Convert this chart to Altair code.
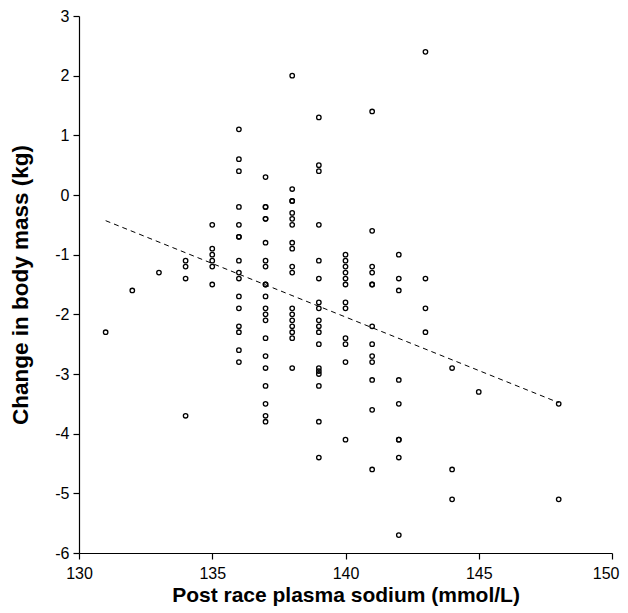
import altair as alt
import pandas as pd

# Post race plasma sodium (mmol/L) and change in body mass (kg), read column by column
sodium = (
    [131] + [132] + [133]
    + [134] * 4
    + [135] * 6
    + [136] * 16
    + [137] * 21
    + [138] * 18
    + [139] * 18
    + [140] * 12
    + [141] * 13
    + [142] * 9
    + [143] * 4
    + [144] * 3
    + [145]
    + [148] * 2
)
mass_change = (
    [-2.3] + [-1.6] + [-1.3]
    + [-1.1, -1.2, -1.4, -3.7]
    + [-0.5, -0.9, -1.0, -1.1, -1.2, -1.5]
    + [1.1, 0.6, 0.4, -0.2, -0.5, -0.7, -0.7, -1.1, -1.3, -1.4, -1.7, -1.9, -2.2, -2.3, -2.6, -2.8]
    + [0.3, -0.2, -0.2, -0.4, -0.4, -0.8, -1.1, -1.2, -1.5, -1.5, -1.7, -1.9, -2.0, -2.1, -2.4,
       -2.7, -2.9, -3.2, -3.5, -3.7, -3.8]
    + [2.0, 0.1, -0.1, -0.1, -0.3, -0.4, -0.5, -0.8, -0.9, -1.2, -1.3, -1.9, -2.0, -2.1, -2.2,
       -2.3, -2.4, -2.9]
    + [1.3, 0.5, 0.4, -0.5, -1.1, -1.4, -1.8, -1.9, -2.1, -2.2, -2.3, -2.5, -2.9, -2.95, -3.0,
       -3.2, -3.8, -4.4]
    + [-1.0, -1.1, -1.2, -1.3, -1.4, -1.5, -1.8, -1.9, -2.4, -2.5, -2.8, -4.1]
    + [1.4, -0.6, -1.2, -1.3, -1.5, -1.5, -2.2, -2.5, -2.7, -2.8, -3.1, -3.6, -4.6]
    + [-1.0, -1.4, -1.6, -3.1, -3.5, -4.1, -4.1, -4.4, -5.7]
    + [2.4, -1.4, -1.9, -2.3]
    + [-2.9, -4.6, -5.1]
    + [-3.3]
    + [-3.5, -5.1]
)

# Regression line end points
trend_x = [131, 148]
trend_y = [-0.43, -3.48]

x_ticks = [130, 135, 140, 145, 150]
y_ticks = [-6, -5, -4, -3, -2, -1, 0, 1, 2, 3]

pts = pd.DataFrame({"sodium": sodium, "mass": mass_change})
trend = pd.DataFrame({"sodium": trend_x, "mass": trend_y})

x_enc = alt.X(
    "sodium:Q",
    scale=alt.Scale(domain=[130, 150], nice=False, zero=False),
    axis=alt.Axis(
        values=x_ticks,
        title="Post race plasma sodium (mmol/L)",
        labelExpr="'' + datum.value",
        labelFlush=False,
        labelAlign={"condition": {"test": "datum.value == 150", "value": "right"}, "value": "center"},
        labelOffset={"condition": {"test": "datum.value == 150", "value": 7}, "value": 0},
        labelPadding=6,
        titlePadding=3,
        titleFontSize=21,
    ),
)
y_enc = alt.Y(
    "mass:Q",
    scale=alt.Scale(domain=[-6, 3], nice=False, zero=False),
    axis=alt.Axis(values=y_ticks, title="Change in body mass (kg)",
                  labelExpr="'' + datum.value", labelFlush=False,
                  labelPadding=4, titlePadding=22, titleFontSize=22.5),
)

points = alt.Chart(pts).mark_point(
    shape="circle", filled=False, color="black", size=20, strokeWidth=1.3, opacity=1
).encode(x=x_enc, y=y_enc)

line = alt.Chart(trend).mark_line(
    color="black", strokeDash=[5, 4], strokeWidth=1
).encode(x=x_enc, y=y_enc)

chart = (
    alt.layer(line, points)
    .properties(
        width=533,
        height=537,
        autosize=alt.AutoSizeParams(type="none"),
        padding={"left": 71, "top": 8, "right": 8, "bottom": 57},
        background="white",
    )
    .configure_view(stroke=None)
    .configure_axis(
        grid=False,
        domainColor="black",
        domainWidth=1.2,
        tickColor="black",
        tickWidth=1.2,
        tickSize=6,
        labelColor="black",
        labelFont="Liberation Sans",
        labelFontSize=16,
        titleColor="black",
        titleFont="Liberation Sans",
        titleFontWeight="bold",
    )
)

chart.save("out.html", embed_options={"renderer": "svg", "actions": False})
